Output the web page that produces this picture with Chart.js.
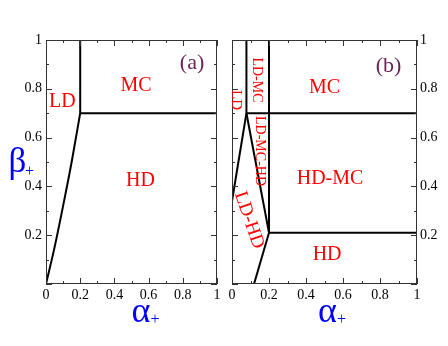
<!DOCTYPE html>
<html>
<head>
<meta charset="utf-8">
<script src="https://cdn.jsdelivr.net/npm/chart.js@4"></script>
<style>
  body { margin: 0; background: #fff; }
  #wrap { position: relative; width: 448px; height: 346px; }
  canvas { position: absolute; top: 0; }
  #chartA { left: 0; }
  #chartB { left: 224px; }
</style>
</head>
<body>
<div id="wrap">
  <canvas id="chartA" width="224" height="346"></canvas>
  <canvas id="chartB" width="224" height="346"></canvas>
</div>
<script>
// phase boundaries, panel (a)
const aLdHdAlpha = [0, 0.05, 0.1, 0.15, 0.2];
const aLdHdBeta  = [0, 0.15, 0.32, 0.5, 0.7];
const aLdMcAlpha = [0.2, 0.2];
const aLdMcBeta  = [0.7, 1];
const aMcHdAlpha = [0.2, 1];
const aMcHdBeta  = [0.7, 0.7];

// phase boundaries, panel (b)
const bLdAlpha      = [0, 0.078];
const bLdBeta       = [0.34, 0.7];
const bLdMcAlpha    = [0.078, 0.078];
const bLdMcBeta     = [0.7, 1];
const bMidAlpha     = [0.078, 0.2];
const bMidBeta      = [0.7, 0.21];
const bRightAlpha   = [0.2, 0.2];
const bRightBeta    = [0.21, 1];
const bUpperAlpha   = [0.078, 1];
const bUpperBeta    = [0.7, 0.7];
const bLowerAlpha   = [0.2, 1];
const bLowerBeta    = [0.21, 0.21];
const bBottomAlpha  = [0.2, 0.119];
const bBottomBeta   = [0.21, 0];

// axes
const majorTicks = [0, 0.2, 0.4, 0.6, 0.8, 1];
const minorTicks = [0.1, 0.3, 0.5, 0.7, 0.9];
const xTickLabels = ['0', '0.2', '0.4', '0.6', '0.8', '1'];
const yTickLabels = ['', '0.2', '0.4', '0.6', '0.8', '1'];

const RED = '#ff0000';
const BLUE = '#0000ff';
const PURPLE = '#6b1f55';
const SERIF = '"Liberation Serif", "DejaVu Serif", serif';

function line(xs, ys, curved) {
  return {
    data: xs.map((x, i) => ({ x: x, y: ys[i] })),
    showLine: true,
    borderColor: '#000',
    borderWidth: 2,
    pointRadius: 0,
    fill: false,
    tension: curved ? 0.4 : 0,
    cubicInterpolationMode: curved ? 'monotone' : 'default'
  };
}

function putText(ctx, text, x, y, size, color, angle) {
  ctx.save();
  ctx.translate(x, y);
  if (angle) ctx.rotate(angle * Math.PI / 180);
  ctx.font = size + 'px ' + SERIF;
  ctx.fillStyle = color;
  ctx.textAlign = 'center';
  ctx.textBaseline = 'middle';
  ctx.fillText(text, 0, 0);
  ctx.restore();
}

const decor = {
  id: 'decor',
  afterDraw(chart, args, opts) {
    const ctx = chart.ctx;
    const a = chart.chartArea;
    const xs = chart.scales.x, ys = chart.scales.y;
    ctx.save();
    ctx.strokeStyle = '#333';
    ctx.lineWidth = 1;
    ctx.strokeRect(a.left + 0.5, a.top + 0.5, a.right - a.left - 1, a.bottom - a.top - 1);
    ctx.beginPath();
    const tick = (vals, len) => {
      vals.forEach(v => {
        const px = Math.round(xs.getPixelForValue(v)) + 0.5;
        const py = Math.round(ys.getPixelForValue(v)) + 0.5;
        ctx.moveTo(px, a.bottom); ctx.lineTo(px, a.bottom - len);
        ctx.moveTo(px, a.top); ctx.lineTo(px, a.top + len);
        ctx.moveTo(a.left, py); ctx.lineTo(a.left + len, py);
        ctx.moveTo(a.right, py); ctx.lineTo(a.right - len, py);
      });
    };
    tick(majorTicks, 6);
    tick(minorTicks, 3);
    ctx.stroke();
    ctx.restore();

    opts.labels.forEach(l => {
      putText(ctx, l.text, xs.getPixelForValue(l.x), ys.getPixelForValue(l.y), l.size, l.color, l.angle);
    });

    // axis titles
    const tx = xs.getPixelForValue(opts.titleX);
    ctx.save();
    ctx.fillStyle = BLUE;
    ctx.textAlign = 'center';
    ctx.textBaseline = 'alphabetic';
    ctx.font = '36px ' + SERIF;
    ctx.fillText('\u03b1', tx, 322);
    ctx.restore();
    putText(ctx, '+', tx + 14, 320, 16, BLUE);
    if (opts.beta) {
      ctx.save();
      ctx.fillStyle = BLUE;
      ctx.textAlign = 'center';
      ctx.textBaseline = 'alphabetic';
      ctx.font = '35px ' + SERIF;
      ctx.fillText('\u03b2', 17.5, 172);
      ctx.restore();
      putText(ctx, '+', 29.5, 171.5, 16, BLUE);
    }
  }
};

function axis(pos, labels, size, pad) {
  return {
    type: 'linear',
    position: pos,
    min: 0,
    max: 1,
    grid: { display: false, drawTicks: false },
    border: { display: false },
    afterBuildTicks: s => { s.ticks = majorTicks.map(v => ({ value: v })); },
    afterFit: s => {
      if (pos === 'bottom') s.height = size; else s.width = size;
    },
    ticks: {
      padding: pad,
      color: '#000',
      font: { family: SERIF, size: 14 },
      maxRotation: 0,
      autoSkip: false,
      callback: (v, i) => labels[i]
    }
  };
}

function makeChart(id, datasets, yPos, yWidth, padding, decorOpts) {
  return new Chart(document.getElementById(id), {
    type: 'scatter',
    data: { datasets: datasets },
    options: {
      responsive: false,
      animation: false,
      layout: { padding: padding },
      scales: {
        x: axis('bottom', xTickLabels, 62, 3),
        y: axis(yPos, yTickLabels, yWidth, yPos === 'left' ? 4 : 3)
      },
      plugins: {
        legend: { display: false },
        tooltip: { enabled: false },
        decor: decorOpts
      }
    },
    plugins: [decor]
  });
}

makeChart('chartA', [
  line(aLdHdAlpha, aLdHdBeta, true),
  line(aLdMcAlpha, aLdMcBeta),
  line(aMcHdAlpha, aMcHdBeta)
], 'left', 46, { top: 40, right: 7, left: 0, bottom: 0 }, {
  titleX: 0.555,
  beta: true,
  labels: [
    { text: 'MC', x: 0.526, y: 0.812, size: 20, color: RED },
    { text: 'LD', x: 0.096, y: 0.746, size: 20, color: RED },
    { text: 'HD', x: 0.553, y: 0.424, size: 20, color: RED },
    { text: '(a)', x: 0.854, y: 0.905, size: 22, color: PURPLE }
  ]
});

makeChart('chartB', [
  line(bLdAlpha, bLdBeta),
  line(bLdMcAlpha, bLdMcBeta),
  line(bMidAlpha, bMidBeta),
  line(bRightAlpha, bRightBeta),
  line(bUpperAlpha, bUpperBeta),
  line(bLowerAlpha, bLowerBeta),
  line(bBottomAlpha, bBottomBeta)
], 'right', 31, { top: 40, right: 0, left: 8, bottom: 0 }, {
  titleX: 0.516,
  beta: false,
  labels: [
    { text: 'MC', x: 0.5, y: 0.805, size: 20, color: RED },
    { text: 'HD-MC', x: 0.53, y: 0.432, size: 20, color: RED },
    { text: 'HD', x: 0.514, y: 0.119, size: 20, color: RED },
    { text: '(b)', x: 0.846, y: 0.893, size: 22, color: PURPLE },
    { text: 'LD-MC', x: 0.135, y: 0.836, size: 14, color: RED, angle: 90 },
    { text: 'LD', x: 0.022, y: 0.754, size: 15, color: RED, angle: 90 },
    { text: 'LD-MC-HD', x: 0.151, y: 0.545, size: 14, color: RED, angle: 90 },
    { text: 'LD-HD', x: 0.092, y: 0.262, size: 19, color: RED, angle: 71 }
  ]
});
</script>
</body>
</html>
